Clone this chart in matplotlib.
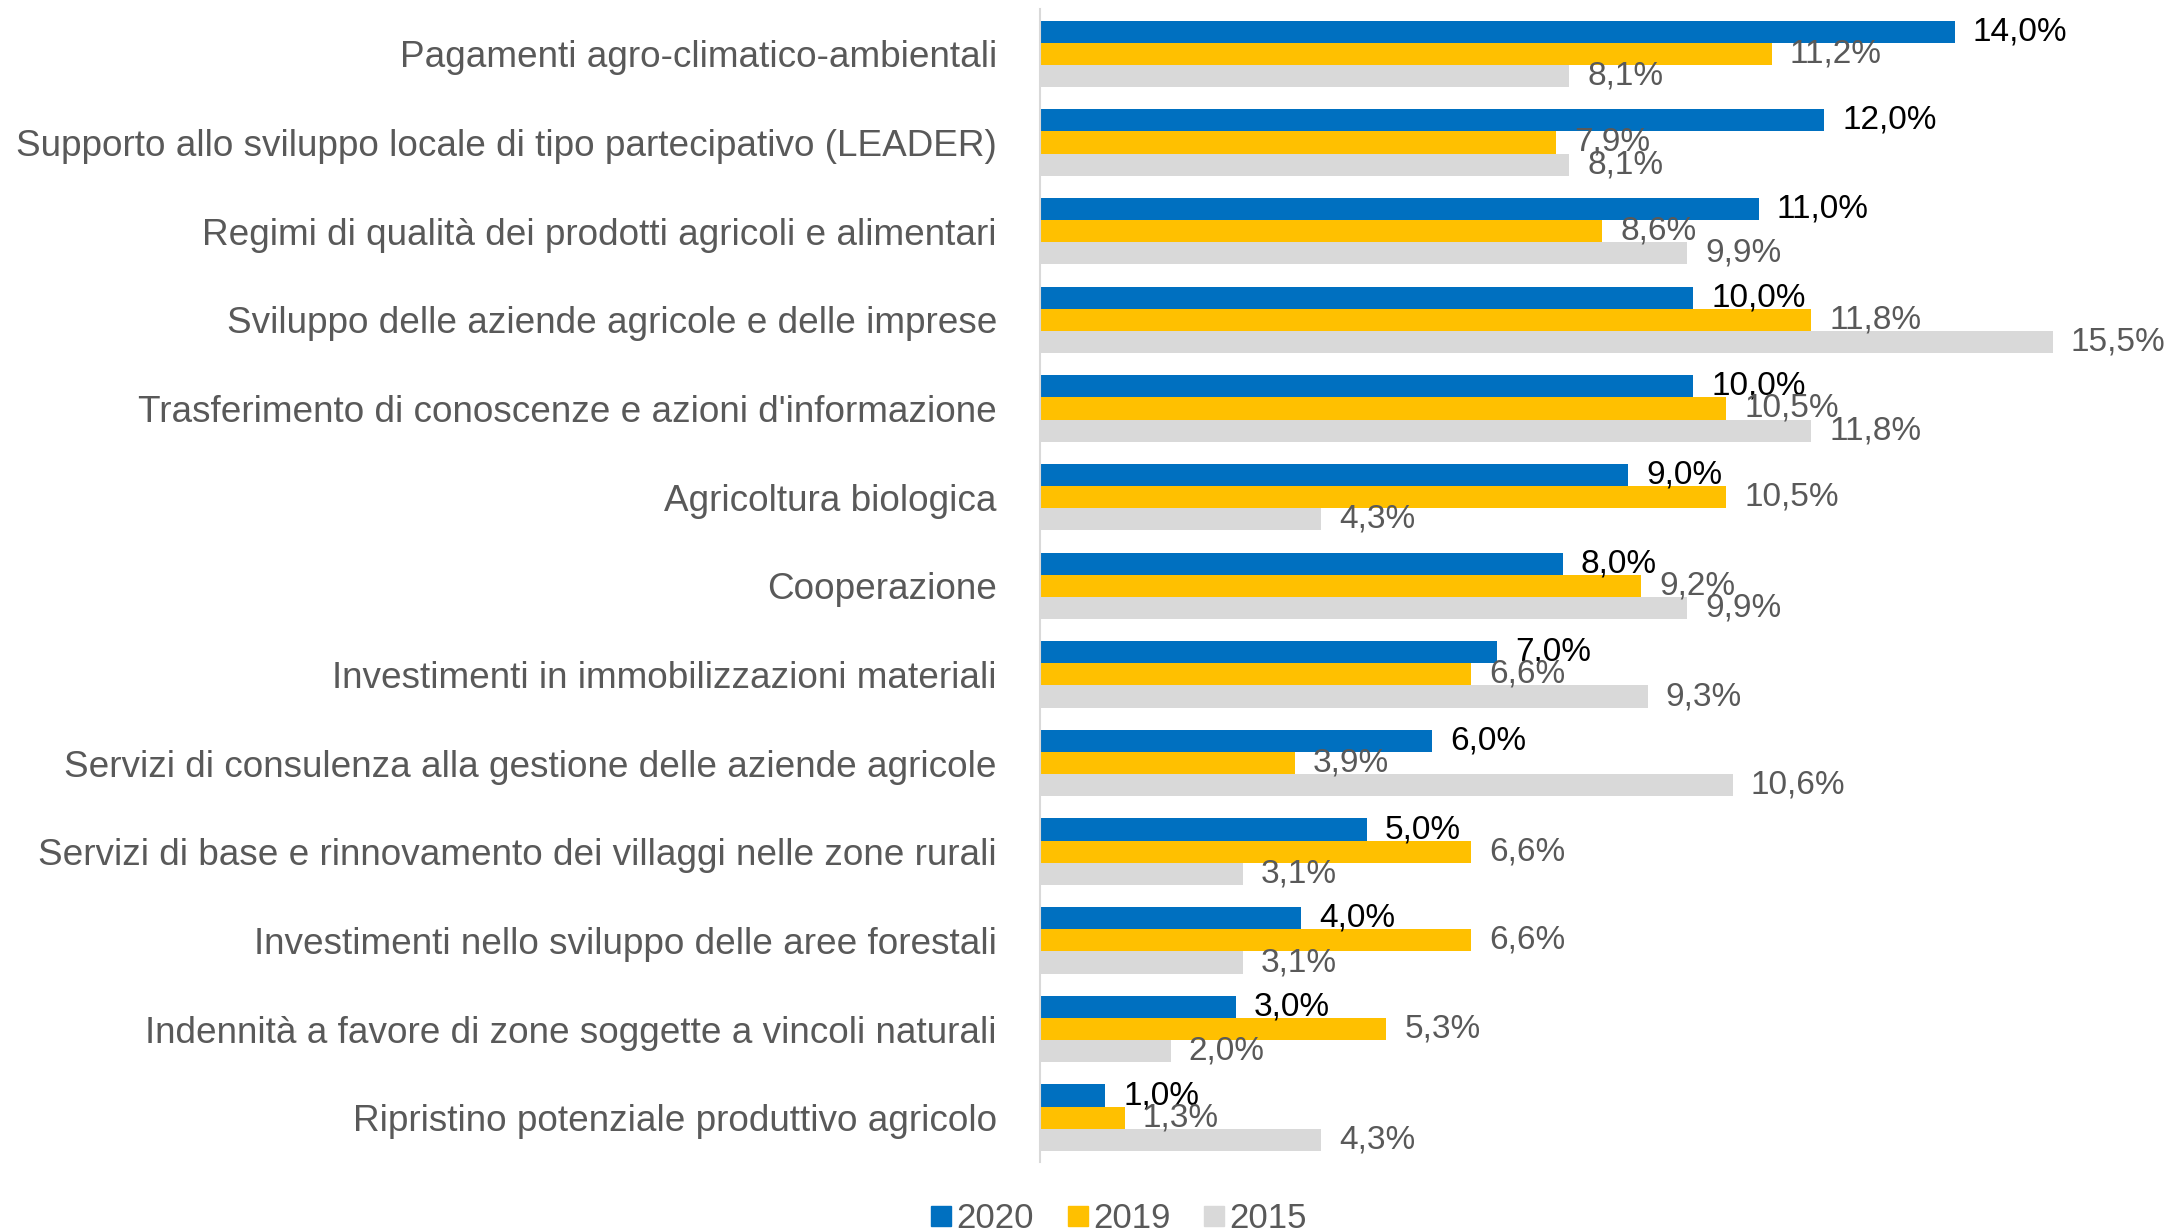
import numpy as np
import matplotlib
matplotlib.use("Agg")
import matplotlib.pyplot as plt
from matplotlib.lines import Line2D

plt.rcParams['font.family'] = ['Liberation Sans', 'DejaVu Sans']

categories = [
    "Pagamenti agro-climatico-ambientali",
    "Supporto allo sviluppo locale di tipo partecipativo (LEADER)",
    "Regimi di qualità dei prodotti agricoli e alimentari",
    "Sviluppo delle aziende agricole e delle imprese",
    "Trasferimento di conoscenze e azioni d'informazione",
    "Agricoltura biologica",
    "Cooperazione",
    "Investimenti in immobilizzazioni materiali",
    "Servizi di consulenza alla gestione delle aziende agricole",
    "Servizi di base e rinnovamento dei villaggi nelle zone rurali",
    "Investimenti nello sviluppo delle aree forestali",
    "Indennità a favore di zone soggette a vincoli naturali",
    "Ripristino potenziale produttivo agricolo",
]
v2020 = [14.0, 12.0, 11.0, 10.0, 10.0, 9.0, 8.0, 7.0, 6.0, 5.0, 4.0, 3.0, 1.0]
v2019 = [11.2, 7.9, 8.6, 11.8, 10.5, 10.5, 9.2, 6.6, 3.9, 6.6, 6.6, 5.3, 1.3]
v2015 = [8.1, 8.1, 9.9, 15.5, 11.8, 4.3, 9.9, 9.3, 10.6, 3.1, 3.1, 2.0, 4.3]

series = [("2020", v2020, "#0070C0", "black"),
          ("2019", v2019, "#FFC000", "#595959"),
          ("2015", v2015, "#D9D9D9", "#595959")]

fig = plt.figure(figsize=(21.72, 12.32), dpi=100)
ax = fig.add_axes([0.4788, 0.0568, 0.4814, 0.9355])

y = np.arange(len(categories))
h = 0.25
for i, (name, vals, col, tcol) in enumerate(series):
    pos = y - 0.25 + i * h
    ax.barh(pos, vals, height=h, color=col, label=name)
    for p, v in zip(pos, vals):
        ax.annotate(f"{v:.1f}%".replace(".", ","), (v, p), xytext=(13, 0),
                    textcoords="offset points", va="center", ha="left",
                    fontsize=24, color=tcol)

ax.set_ylim(len(categories) - 0.5, -0.5)
ax.set_xlim(0, 16)
ax.set_yticks(y)
ax.set_yticklabels(categories, fontsize=26.6, color="#595959")
ax.tick_params(axis="y", length=0, pad=31)
ax.set_xticks([])
for s in ["top", "right", "bottom"]:
    ax.spines[s].set_visible(False)
ax.spines["left"].set_color("#D9D9D9")
ax.spines["left"].set_linewidth(1.5)

handles = [Line2D([], [], marker="s", linestyle="", markersize=14, color=c)
           for _, _, c, _ in series]
fig.legend(handles, [s[0] for s in series], loc="center", ncol=3,
           bbox_to_anchor=(1118 / 2172, 1 - 1219 / 1232), frameon=False,
           fontsize=25, labelcolor="#595959", handletextpad=0.1,
           columnspacing=0.9, handlelength=0.7)

fig.savefig("out.png", dpi=100)
